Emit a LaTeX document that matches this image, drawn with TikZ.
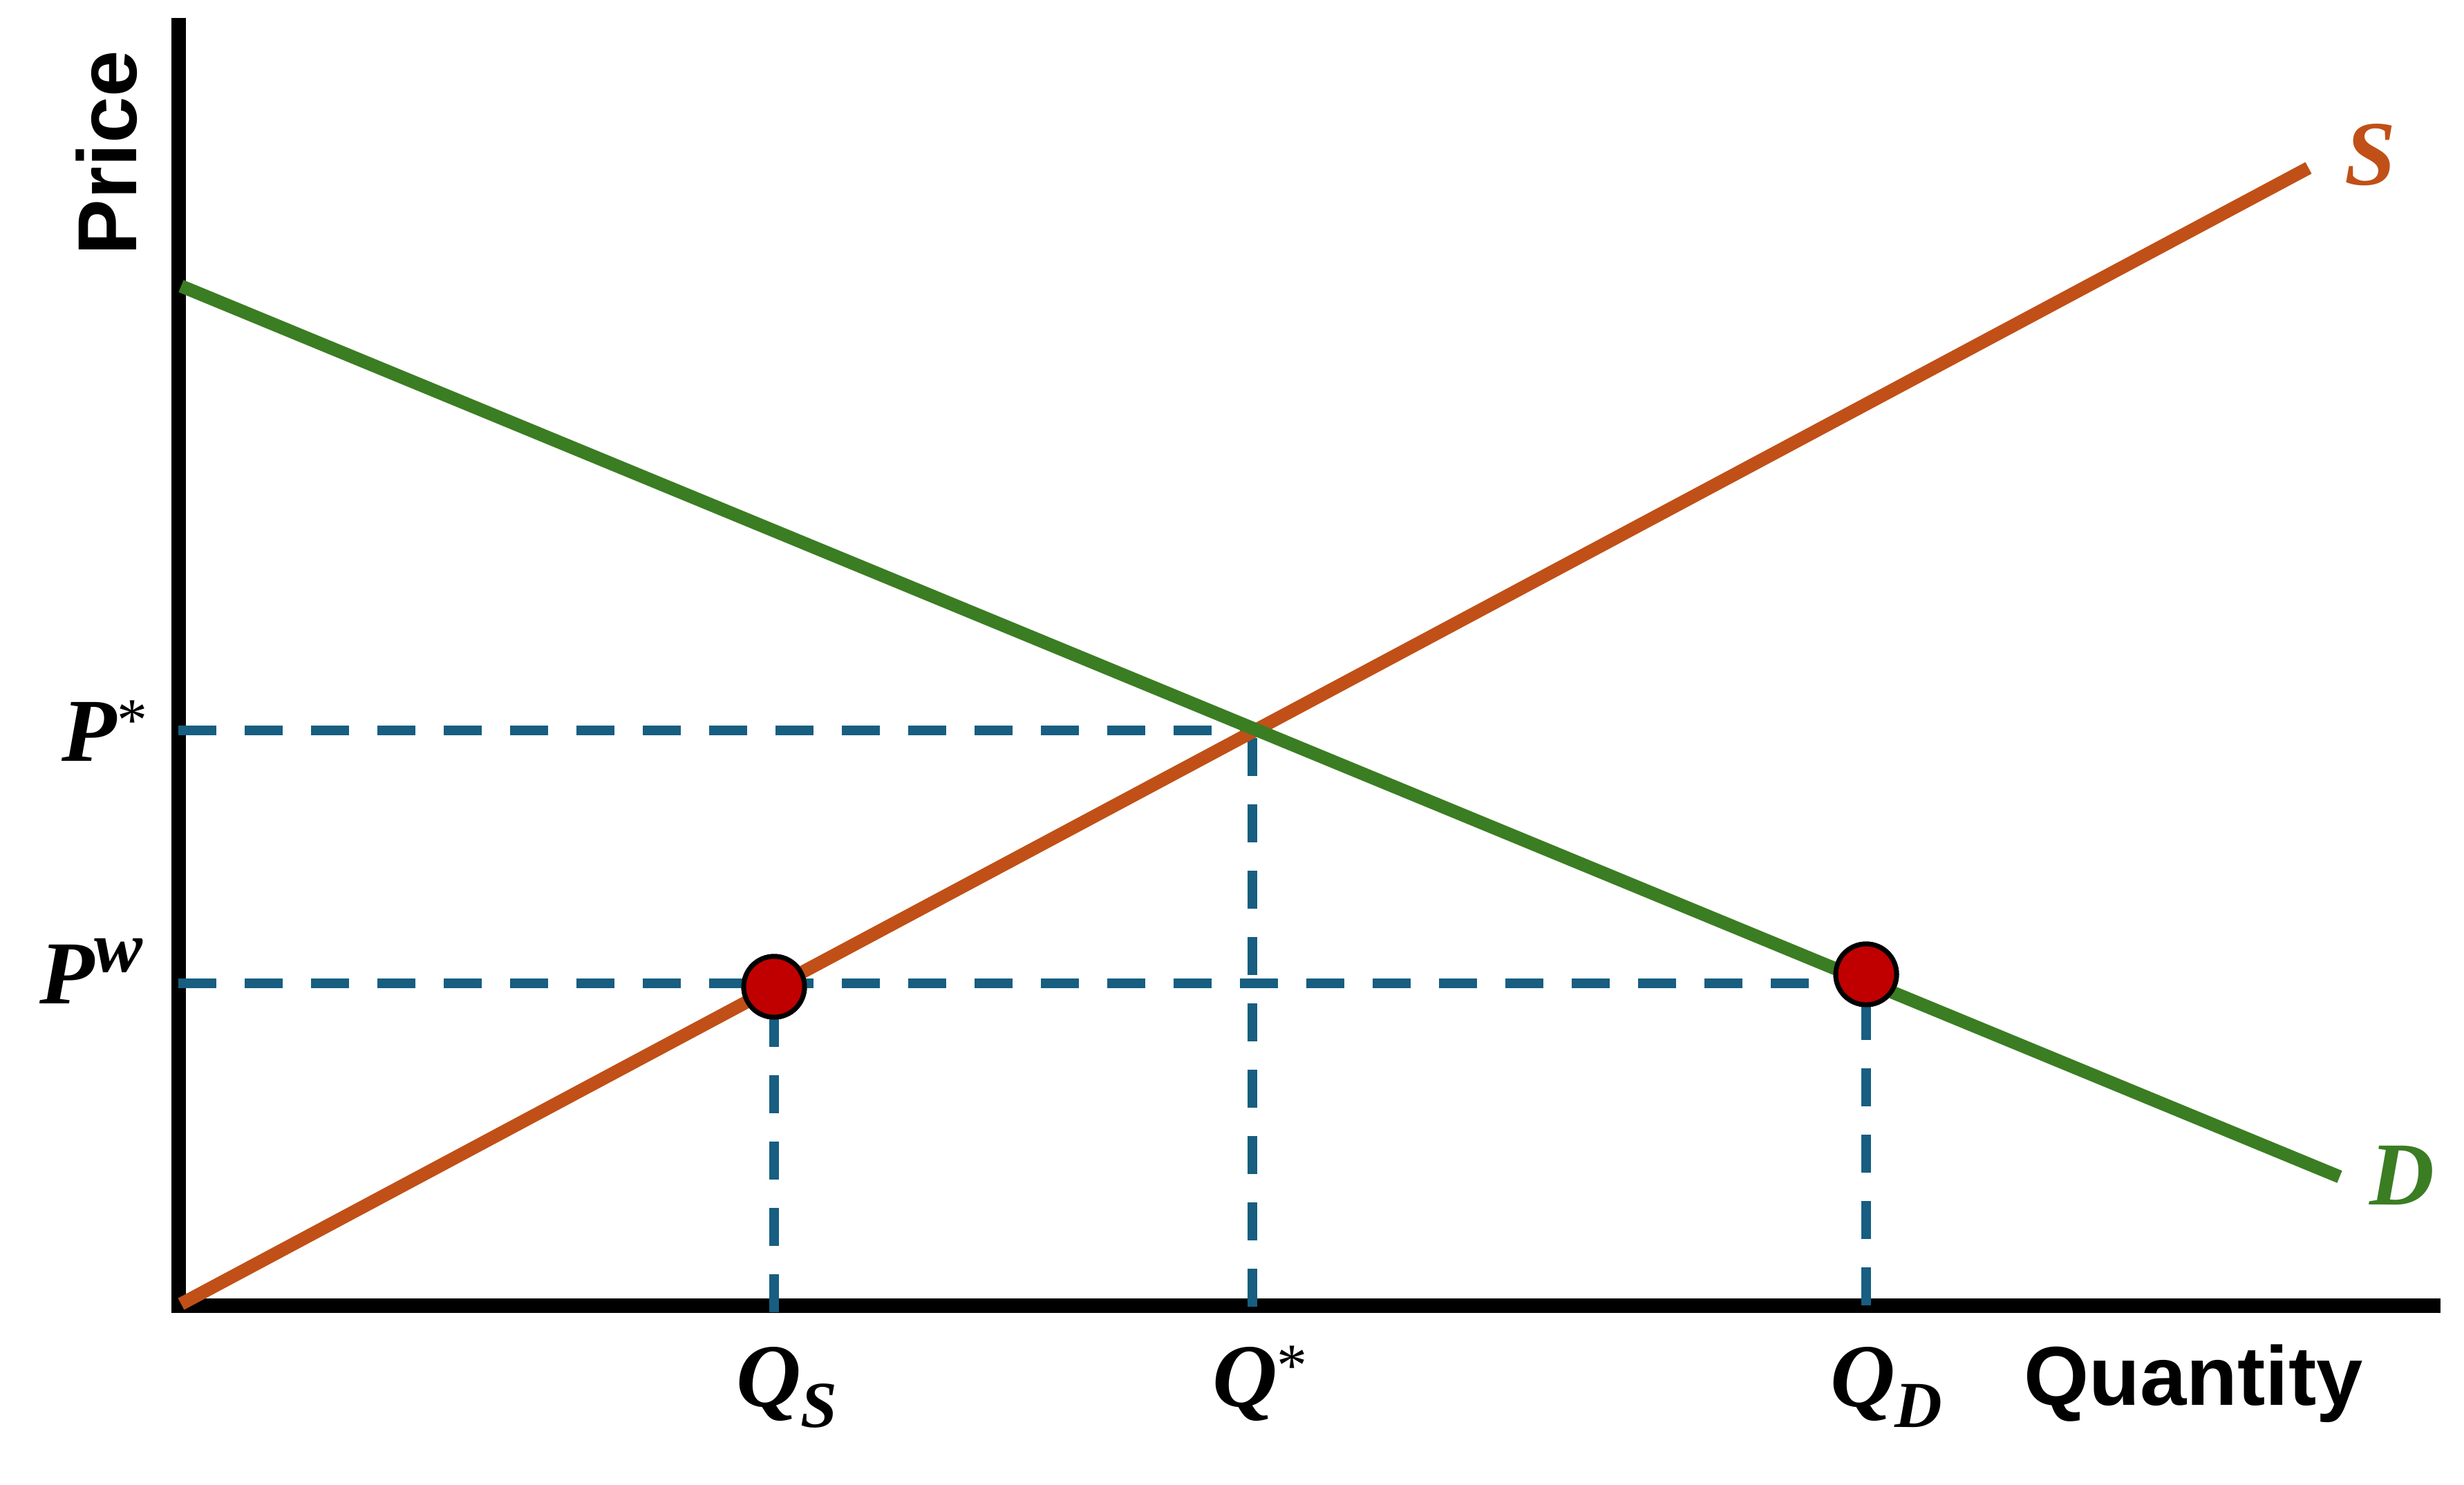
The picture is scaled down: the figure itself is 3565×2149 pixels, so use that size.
\documentclass[tikz,border=0pt]{standalone}
\usepackage{fontspec}
\setmainfont{Liberation Serif}
\newfontfamily\lsans{Liberation Sans}
\definecolor{supcol}{HTML}{C05017}
\definecolor{demcol}{HTML}{3B7D23}
\definecolor{guidecol}{HTML}{175E81}
\definecolor{dotred}{HTML}{C00000}
\newcommand\supstar{\raisebox{30pt}{\fontsize{88}{90}\selectfont\mdseries\upshape *}}
\newcommand\subsc[1]{\raisebox{-30pt}{\fontsize{95}{100}\selectfont #1}}
\begin{document}
\begin{tikzpicture}[x=1pt,y=-1pt,
  axis/.style={line width=21pt, draw=black, line join=miter},
  guide/.style={line width=14pt, draw=guidecol, dash pattern=on 55pt off 41pt},
  supply/.style={line width=19pt, draw=supcol},
  demand/.style={line width=19pt, draw=demcol},
  dot/.style={circle, fill=dotred, draw=black, line width=7pt, minimum size=88pt, inner sep=0pt},
  lblserif/.style={inner sep=0pt, outer sep=0pt, font=\fontsize{130}{150}\selectfont\bfseries\itshape},
  lblsans/.style={inner sep=0pt, outer sep=0pt, font=\lsans\fontsize{121}{140}\selectfont\bfseries}]
\useasboundingbox (0,0) rectangle (3565,2149);
% axes
\coordinate (O) at (258,1889);
\coordinate (ytop) at (258,26);
\coordinate (xend) at (3531,1889);
\draw[axis] (ytop) -- (O) -- (xend);
% curves endpoints
\coordinate (s0) at (262,1887);
\coordinate (s1) at (3340,243);
\coordinate (d0) at (262,414);
\coordinate (d1) at (3385,1703);
\coordinate (E) at (intersection of s0--s1 and d0--d1);
% guides
\coordinate (pwl) at (258,1423);
\coordinate (qsb) at (1120,1899);
\coordinate (qstb) at (1812,1891);
\coordinate (qdb) at (2700,1889);
\coordinate (pstl) at (258,1057);
\node[dot] (dS) at (1120,1428) {};
\node[dot] (dD) at (2700,1410) {};
\draw[guide] (pstl) -- (pstl -| E);
\draw[guide] (qstb) -- (qstb |- E);
\draw[guide] (pwl) -- (pwl -| dD);
\draw[guide] (qsb) -- (dS.center);
\draw[guide] (qdb) -- (dD.center);
% curves
\draw[supply] (s0) -- (s1);
\draw[demand] (d0) -- (d1);
% dots on top
\node[dot] at (dS.center) {};
\node[dot] at (dD.center) {};
% labels
\node[lblserif, anchor=base east] (pstar) at (213,1101) {P\supstar};
\node[lblserif, anchor=base east] (pwlab) at (207,1452) {P\raisebox{46pt}{\fontsize{105}{110}\selectfont w}};
\node[lblserif, anchor=base west] (qslab) at (1065,2035) {Q\subsc{S}};
\node[lblserif, anchor=base west] (qstar) at (1754,2035) {Q\supstar};
\node[lblserif, anchor=base west] (qdlab) at (2648,2035) {Q\subsc{D}};
\node[lblsans, anchor=base west] (qty) at (2928,2033) {Quantity};
\node[lblsans, anchor=base west, rotate=90] (price) at (197,369) {Price};
\node[lblserif, anchor=base west, text=supcol, font=\fontsize{133}{150}\selectfont\bfseries\itshape] (slab) at (3392,267) {S};
\node[lblserif, anchor=base west, text=demcol] (dlab) at (3428,1743) {D};
\end{tikzpicture}
\end{document}
